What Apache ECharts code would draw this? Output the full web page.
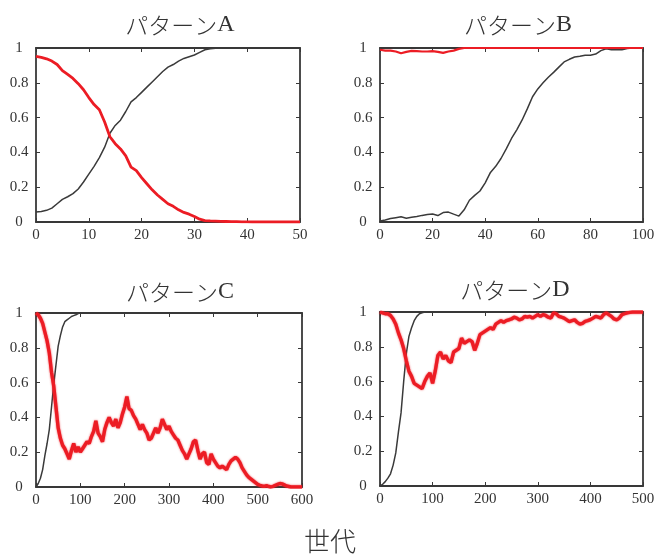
<!DOCTYPE html>
<html>
<head>
<meta charset="utf-8">
<script src="https://cdn.jsdelivr.net/npm/echarts@6/dist/echarts.min.js"></script>
<style>
  html, body { margin: 0; padding: 0; background: #fff; }
  #chart { width: 658px; height: 555px; }
</style>
</head>
<body>
<div id="chart"></div>
<script>
// Panel titles (katakana part + pattern letter) and shared axis caption
const titleStem = 'パターン';
const panelLetters = ['A', 'B', 'C', 'D'];
const xCaption = '世代';

// Generation step between consecutive samples, per panel
const stepA = 1, stepB = 2, stepC = 5, stepD = 5;

// パターンA (generations 0-50)
const blackA = [.057,.06,.067,.08,.105,.13,.145,.163,.19,.23,.275,.32,.37,.43,.51,.555,.585,.635,.69,.715,
  .745,.775,.805,.835,.865,.89,.905,.925,.94,.95,.96,.975,.99,.995,.998,.999,1,1,1,1];
const redA = [.952,.946,.938,.925,.905,.87,.848,.825,.795,.76,.715,.675,.645,.575,.49,.45,.42,.38,.315,.295,
  .255,.22,.185,.155,.13,.105,.09,.07,.055,.045,.032,.016,.008,.006,.005,.004,.003,.002,.002,.001,
  .001,0,0,0,0,0,0,0,0,0,0];

// パターンB (generations 0-100)
const blackB = [.006,.012,.02,.025,.03,.022,.027,.032,.038,.043,.046,.037,.054,.057,.045,.034,.07,.125,.153,.178,
  .225,.285,.32,.365,.42,.48,.53,.585,.65,.72,.765,.8,.832,.86,.89,.92,.935,.948,.952,.958,
  .958,.965,.985,.996,.99,.99,.99,.997,1,1,1];
const redB = [.99,.985,.985,.98,.97,.978,.983,.982,.98,.98,.982,.978,.972,.98,.985,.995,1,1,1,1,
  1,1,1,1,1,1,1,1,1,1,1,1,1,1,1,1,1,1,1,1,
  1,1,1,1,1,1,1,1,1,1,1];

// パターンC (generations 0-600)
const blackC = [0,.02,.05,.10,.18,.25,.33,.46,.59,.70,.81,.87,.92,.95,.96,.97,.98,.985,.99,.997,1];
const redC = [1.00,.99,.97,.94,.89,.84,.77,.66,.58,.46,.34,.28,.24,.22,.19,.16,.21,.25,.20,.23,
  .20,.22,.24,.26,.25,.29,.32,.38,.31,.29,.26,.33,.37,.40,.37,.35,.39,.34,.37,.42,
  .46,.52,.45,.44,.41,.39,.36,.33,.36,.33,.31,.27,.28,.31,.34,.31,.34,.39,.36,.33,
  .35,.32,.30,.28,.27,.24,.21,.19,.16,.19,.22,.26,.27,.21,.16,.19,.20,.14,.13,.19,
  .16,.14,.12,.11,.12,.11,.10,.13,.15,.16,.17,.16,.14,.11,.09,.07,.055,.045,.035,.025,
  .015,.01,.006,.004,.008,.003,0,.004,.01,.015,.02,.018,.012,.006,.003,0,0,0,0,0,0];

// パターンD (generations 0-500)
const blackD = [0,.01,.025,.045,.07,.12,.19,.31,.42,.60,.76,.86,.91,.95,.975,.99,.995,1];
const redD = [1,.995,.99,.99,.98,.96,.93,.88,.84,.79,.72,.66,.63,.59,.58,.57,.56,.60,.63,.65,
  .59,.66,.75,.77,.73,.75,.72,.71,.77,.78,.79,.85,.82,.83,.84,.83,.78,.82,.87,.88,
  .89,.90,.91,.90,.93,.94,.95,.94,.95,.955,.96,.97,.965,.955,.96,.975,.97,.975,.965,.975,
  .985,.975,.985,.98,.97,.965,.995,.99,.975,.97,.965,.955,.945,.95,.955,.94,.93,.935,.946,.95,
  .956,.965,.975,.97,.965,.985,.995,.985,.975,.96,.955,.965,.985,.99,.995,.998,1,1,1,1,1];

// Axis ranges and tick spacing per panel
const xMax = [50, 100, 600, 500];
const xInterval = [10, 20, 100, 100];
const yMax = 1, yInterval = 0.2;

const toPairs = (step, arr) => arr.map((v, i) => [i * step, v]);

const BLACK = '#3a3a3a';
const RED = '#ec1c24';
const FRAME = '#383838';

// Plot rectangles [left, top, width, height]
const rects = [
  [36, 48, 264, 174],
  [380, 48, 263, 174],
  [36, 313, 266, 174],
  [380, 312, 263, 174]
];
const titlePos = [[180, 25], [518, 25], [180, 292], [515, 290]];

const labelStyle = {
  fontFamily: 'Liberation Serif, DejaVu Serif, serif',
  fontSize: 15,
  color: '#333'
};

const grids = [], xAxes = [], yAxes = [], series = [], graphics = [];

const seriesData = [
  [toPairs(stepA, blackA), toPairs(stepA, redA)],
  [toPairs(stepB, blackB), toPairs(stepB, redB)],
  [toPairs(stepC, blackC), toPairs(stepC, redC)],
  [toPairs(stepD, blackD), toPairs(stepD, redD)]
];
const redWidth = [2.8, 2.2, 3.4, 3.4];
const redBlur = [0, 0, 2, 2];

rects.forEach((r, i) => {
  grids.push({ left: r[0], top: r[1], width: r[2], height: r[3], containLabel: false });
  const axisLine = { show: true, onZero: false, lineStyle: { color: FRAME, width: 1.8 } };
  const tick = { show: true, inside: true, length: 4, lineStyle: { color: FRAME, width: 1 } };
  ['bottom', 'top'].forEach(pos => {
    xAxes.push({
      gridIndex: i, type: 'value', position: pos, min: 0, max: xMax[i], interval: xInterval[i],
      axisLine, axisTick: tick, splitLine: { show: false },
      axisLabel: pos === 'bottom' ? Object.assign({ show: true, margin: 6 }, labelStyle) : { show: false }
    });
  });
  ['left', 'right'].forEach(pos => {
    yAxes.push({
      gridIndex: i, type: 'value', position: pos, min: 0, max: yMax, interval: yInterval,
      axisLine, axisTick: tick, splitLine: { show: false },
      axisLabel: pos === 'left'
        ? Object.assign({ show: true, margin: 17, align: 'center' }, labelStyle)
        : { show: false }
    });
  });
  series.push({
    type: 'line', xAxisIndex: i * 2, yAxisIndex: i * 2, data: seriesData[i][0],
    symbol: 'none', lineStyle: { color: BLACK, width: 1.5 }, z: 3
  });
  series.push({
    type: 'line', xAxisIndex: i * 2, yAxisIndex: i * 2, data: seriesData[i][1],
    symbol: 'none',
    lineStyle: {
      color: RED, width: redWidth[i],
      shadowBlur: redBlur[i], shadowColor: 'rgba(236,28,36,0.8)'
    },
    z: 4
  });
  graphics.push({
    type: 'text', x: titlePos[i][0], y: titlePos[i][1],
    style: {
      text: '{k|' + titleStem + '}{l|' + panelLetters[i] + '}',
      textAlign: 'center', textVerticalAlign: 'middle',
      rich: {
        k: { fontFamily: '"Noto Sans CJK JP", sans-serif', fontSize: 23, fontWeight: 300, fill: '#333', color: '#333' },
        l: { fontFamily: 'Liberation Serif, serif', fontSize: 24, fill: '#333', color: '#333' }
      }
    }
  });
});

graphics.push({
  type: 'text', x: 330, y: 541,
  style: {
    text: xCaption, textAlign: 'center', textVerticalAlign: 'middle',
    font: '300 26px "Noto Sans CJK JP", sans-serif', fill: '#333'
  }
});

const chart = echarts.init(document.getElementById('chart'), null, { renderer: 'canvas' });
chart.setOption({
  animation: false,
  backgroundColor: '#fff',
  grid: grids,
  xAxis: xAxes,
  yAxis: yAxes,
  series: series,
  graphic: graphics
});
</script>
</body>
</html>
